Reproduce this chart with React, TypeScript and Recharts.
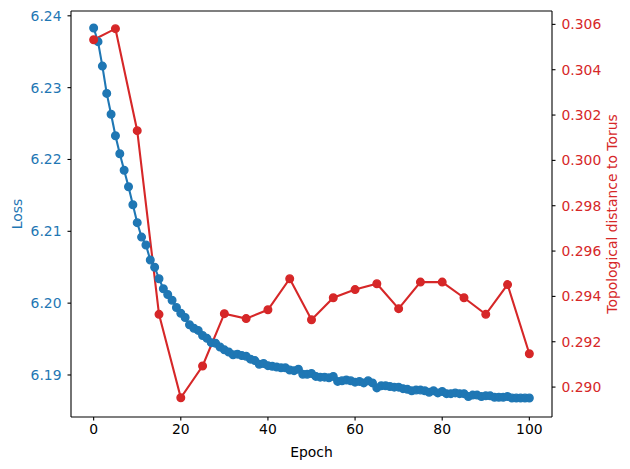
import React from 'react'
import { LineChart, Line, XAxis, YAxis, ReferenceLine } from 'recharts'

const BLUE = '#1f77b4'
const RED = '#d62728'
const FONT = 'DejaVu Sans, sans-serif'
const FS = 13.9

// loss per epoch, epoch = index (0..100)
const lossValues = [
  6.2383, 6.2364, 6.2330, 6.2292, 6.2263, 6.2233, 6.2208, 6.2185, 6.2162, 6.2137,
  6.2112, 6.2092, 6.2081, 6.2060, 6.2050, 6.2034, 6.2020, 6.2012, 6.2004, 6.1994,
  6.1986, 6.1980, 6.1970, 6.1965, 6.1962, 6.1955, 6.1951, 6.1945, 6.1944, 6.1939,
  6.1935, 6.1932, 6.1928, 6.1929, 6.1927, 6.1926, 6.1922, 6.1920, 6.1915, 6.1916,
  6.1913, 6.1912, 6.1911, 6.1910, 6.1910, 6.1907, 6.1906, 6.1908, 6.1901, 6.1901,
  6.1902, 6.1898, 6.1897, 6.1897, 6.1896, 6.1898, 6.1891, 6.1892, 6.1893, 6.1892,
  6.1890, 6.1891, 6.1889, 6.1892, 6.1889, 6.1882, 6.1885, 6.1885, 6.1884, 6.1883,
  6.1883, 6.1881, 6.1880, 6.1878, 6.1879, 6.1879, 6.1878, 6.1876, 6.1878, 6.1875,
  6.1877, 6.1874, 6.1874, 6.1875, 6.1874, 6.1874, 6.1870, 6.1872, 6.1872, 6.1870,
  6.1871, 6.1871, 6.1869, 6.1869, 6.1869, 6.1870, 6.1868, 6.1868, 6.1868, 6.1868,
  6.1868
]

const topoEpochs = [0, 5, 10, 15, 20, 25, 30, 35, 40, 45, 50, 55, 60, 65, 70, 75, 80, 85, 90, 95, 100]
const topoValues = [
  0.30532, 0.30581, 0.30131, 0.29321, 0.28953, 0.29093, 0.29324, 0.29302, 0.29341, 0.29478,
  0.29297, 0.29394, 0.2943, 0.29456, 0.29346, 0.29463, 0.29463, 0.29394, 0.29321, 0.29452,
  0.29147
]

const xTicks = [0, 20, 40, 60, 80, 100]
const lossTicks = [6.19, 6.2, 6.21, 6.22, 6.23, 6.24]
const topoTicks = [0.29, 0.292, 0.294, 0.296, 0.298, 0.3, 0.302, 0.304, 0.306]

const data = lossValues.map((loss, i) => {
  const k = topoEpochs.indexOf(i)
  return { epoch: i, loss, topo: k >= 0 ? topoValues[k] : null }
})

const LossTitle = ({ viewBox }: any) => {
  const cy = viewBox.y + viewBox.height / 2
  return (
    <text x={17} y={cy} transform={`rotate(-90, 17, ${cy})`} textAnchor="middle" dominantBaseline="central"
      fill={BLUE} fontSize={FS} fontFamily={FONT}>Loss</text>
  )
}

const TopoTitle = ({ viewBox }: any) => {
  const cy = viewBox.y + viewBox.height / 2
  const cx = viewBox.x + 60
  return (
    <text x={cx} y={cy} transform={`rotate(-90, ${cx}, ${cy})`} textAnchor="middle" dominantBaseline="central"
      fill={RED} fontSize={FS} fontFamily={FONT}>Topological distance to Torus</text>
  )
}

const EpochTitle = ({ viewBox }: any) => (
  <text x={viewBox.x + viewBox.width / 2} y={452} textAnchor="middle" dominantBaseline="central"
    fill="#000" fontSize={FS} fontFamily={FONT}>Epoch</text>
)

export default function App() {
  return (
    <div style={{ position: 'absolute', left: 0, top: 0, background: '#fff' }}>
      <LineChart width={630} height={469} data={data} margin={{ top: 11, right: 0, bottom: 0, left: 0 }}>
        <XAxis
          dataKey="epoch"
          type="number"
          domain={[-5.2, 105.2]}
          ticks={xTicks}
          allowDataOverflow
          height={52}
          tickSize={3.5}
          tickMargin={4}
          axisLine={{ stroke: '#000', strokeWidth: 1.1 }}
          tickLine={{ stroke: '#000', strokeWidth: 1.1 }}
          tick={{ fill: '#000', fontSize: FS, fontFamily: FONT }}
          label={<EpochTitle />}
        />
        <YAxis
          yAxisId="loss"
          orientation="left"
          width={71}
          domain={[6.18415, 6.24067]}
          ticks={lossTicks}
          allowDataOverflow
          tickFormatter={(v: number) => v.toFixed(2)}
          tickSize={3.5}
          tickMargin={6}
          axisLine={{ stroke: '#000', strokeWidth: 1.1 }}
          tickLine={{ stroke: '#000', strokeWidth: 1.1 }}
          tick={{ fill: BLUE, fontSize: FS, fontFamily: FONT }}
          label={<LossTitle />}
        />
        <YAxis
          yAxisId="topo"
          orientation="right"
          width={78}
          domain={[0.28868, 0.30659]}
          ticks={topoTicks}
          allowDataOverflow
          tickFormatter={(v: number) => v.toFixed(3)}
          tickSize={3.5}
          tickMargin={6}
          axisLine={{ stroke: '#000', strokeWidth: 1.1 }}
          tickLine={{ stroke: '#000', strokeWidth: 1.1 }}
          tick={{ fill: RED, fontSize: FS, fontFamily: FONT }}
          label={<TopoTitle />}
        />
        {/* top spine */}
        <ReferenceLine yAxisId="loss" y={6.24067} stroke="#000" strokeWidth={1.1} ifOverflow="extendDomain" />
        <Line
          yAxisId="loss"
          dataKey="loss"
          stroke={BLUE}
          strokeWidth={2.1}
          dot={{ r: 3.8, fill: BLUE, stroke: BLUE, strokeWidth: 1.4 }}
          isAnimationActive={false}
        />
        <Line
          yAxisId="topo"
          dataKey="topo"
          stroke={RED}
          strokeWidth={2.1}
          connectNulls
          dot={{ r: 3.8, fill: RED, stroke: RED, strokeWidth: 1.4 }}
          isAnimationActive={false}
        />
      </LineChart>
    </div>
  )
}
